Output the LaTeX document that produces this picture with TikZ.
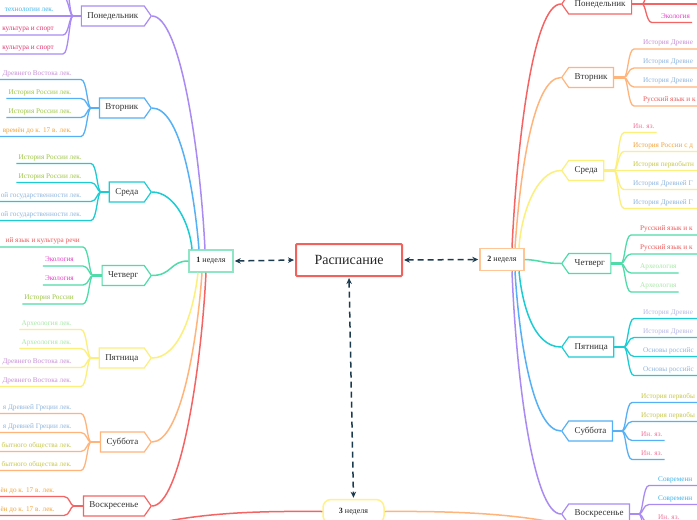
\documentclass[tikz,border=0pt]{standalone}
\usepackage{fontspec}
\setmainfont{Liberation Serif}
\usetikzlibrary{shapes.symbols,arrows.meta,calc}

\definecolor{lnPurple}{HTML}{A98BF3}
\definecolor{lnBlue}{HTML}{56B0F5}
\definecolor{lnCyan}{HTML}{1CCCD3}
\definecolor{lnGreen}{HTML}{4FDBAA}
\definecolor{lnYellow}{HTML}{FCEF7C}
\definecolor{lnOrange}{HTML}{FFB47C}
\definecolor{lnRed}{HTML}{F56464}
\definecolor{navyC}{HTML}{1B3A4D}
\definecolor{tPurp}{HTML}{C78FD6}
\definecolor{tGreen}{HTML}{9FC746}
\definecolor{tOrange}{HTML}{F2A33A}
\definecolor{tBlue}{HTML}{8FB6DE}
\definecolor{tRed}{HTML}{EC5B5B}
\definecolor{tMag}{HTML}{E43FC6}
\definecolor{tPaleG}{HTML}{A6E8A6}
\definecolor{tPink}{HTML}{F2769C}
\definecolor{tCrim}{HTML}{E2346E}
\definecolor{tCyan}{HTML}{3FB3EA}
\definecolor{tLav}{HTML}{B9B9E6}
\definecolor{tYG}{HTML}{C6C84A}
\definecolor{wGreen}{HTML}{8EE6C4}
\definecolor{wOrange}{HTML}{FFC596}
\definecolor{wYellow}{HTML}{FFF28A}
\definecolor{mainRed}{HTML}{F2625C}

% left leaf, underline ends at text start
\newcommand\leafL[7]{%
  \node[leaftxt=#5, anchor=base east] (#7) at (#1-19,#3-4.5) {#4};
  \draw[leafln=#6] (#1,#2) .. controls (#1-4,#2) and (#1-4,#3) .. (#1-10,#3) -- ($(#7.west |- 0,#3)+(-2,0)$);}
% left leaf, line runs on to the picture edge
\newcommand\leafLc[7]{%
  \node[leaftxt=#5, anchor=base east] (#7) at (#1-19,#3-4.5) {#4};
  \draw[leafln=#6] (#1,#2) .. controls (#1-4,#2) and (#1-4,#3) .. (#1-10,#3) -- (-6,#3);}
% left leaf without visible text
\newcommand\leafLn[4]{%
  \draw[leafln=#4] (#1,#2) .. controls (#1-4,#2) and (#1-4,#3) .. (#1-10,#3) -- (-6,#3);}
\newcommand\leafR[7]{%
  \node[leaftxt=#5, anchor=base west] (#7) at (#1+19,#3-4.5) {#4};
  \draw[leafln=#6] (#1,#2) .. controls (#1+4,#2) and (#1+4,#3) .. (#1+10,#3) -- ($(#7.east |- 0,#3)+(2,0)$);}
\newcommand\leafRc[7]{%
  \node[leaftxt=#5, anchor=base west] (#7) at (#1+19,#3-4.5) {#4};
  \draw[leafln=#6] (#1,#2) .. controls (#1+4,#2) and (#1+4,#3) .. (#1+10,#3) -- (705,#3);}
\newcommand\leafRn[4]{%
  \draw[leafln=#4] (#1,#2) .. controls (#1+4,#2) and (#1+4,#3) .. (#1+10,#3) -- (705,#3);}

\begin{document}
\begin{tikzpicture}[x=1pt,y=-1pt,
  dayL/.style={signal, signal to=east, signal pointer angle=110, draw=#1, fill=white, line width=1.2pt,
    font=\fontsize{9}{10}\selectfont, minimum height=20pt, inner xsep=6pt, inner ysep=0pt, text=black!80, anchor=east},
  dayR/.style={signal, signal to=west, signal pointer angle=110, draw=#1, fill=white, line width=1.2pt,
    font=\fontsize{9}{10}\selectfont, minimum height=20pt, inner xsep=6pt, inner ysep=0pt, text=black!80, anchor=west},
  conn/.style={line width=1.5pt, draw=#1},
  stub/.style={line width=2.6pt, draw=#1},
  leafln/.style={line width=1.3pt, draw=#1},
  leaftxt/.style={font=\fontsize{7.2}{8}\selectfont, inner sep=0pt, text=#1},
  weekbox/.style={draw=#1, line width=1.5pt, fill=white, minimum width=44pt, minimum height=22pt,
    inner sep=0pt, font=\fontsize{8}{9}\selectfont, text=black!85},
  dasharr/.style={draw=navyC, line width=1.5pt, dash pattern=on 6pt off 4pt,
    <->, >={Stealth[length=6pt,width=5.5pt]}, shorten <=1pt, shorten >=1pt}
]
\useasboundingbox (0,0) rectangle (697,520);
\fill[white] (0,0) rectangle (697,520);
\clip (0,0) rectangle (697,520);

% ---------- central and week nodes
\node[draw=mainRed, line width=2pt, fill=white, minimum width=106pt, minimum height=32pt, rounded corners=1pt,
  font=\fontsize{14}{16}\selectfont, text=black!85] (main) at (349,260) {Расписание};
\node[weekbox=wGreen] (w1) at (211,261) {{\bfseries 1} неделя};
\node[weekbox=wOrange] (w2) at (502,259.5) {{\bfseries 2} неделя};
\node[weekbox=wYellow, minimum width=61pt, minimum height=24pt, rounded corners=8pt] (w3) at (353.5,511.5) {{\bfseries 3} неделя};

\draw[dasharr] (w1.east) -- (main.west);
\draw[dasharr] (main.east) -- (w2.west);
\draw[dasharr] (main.south) -- (w3.north);

% ---------- day nodes, week 1
\node[dayL=lnPurple] (pn1) at (152,16) {Понедельник};
\node[dayL=lnBlue] (vt1) at (152,108) {Вторник};
\node[dayL=lnCyan] (sr1) at (152,192) {Среда};
\node[dayL=lnGreen] (ch1) at (152,275.5) {Четверг};
\node[dayL=lnYellow] (pt1) at (152,358) {Пятница};
\node[dayL=lnOrange] (sb1) at (152,442) {Суббота};
\node[dayL=lnRed] (vs1) at (152,506) {Воскресенье};

% ---------- day nodes, week 2
\node[dayR=lnRed] (pn2) at (561,4) {Понедельник};
\node[dayR=lnOrange] (vt2) at (561,77.5) {Вторник};
\node[dayR=lnYellow] (sr2) at (561,170.5) {Среда};
\node[dayR=lnGreen] (ch2) at (561,263.5) {Четверг};
\node[dayR=lnCyan] (pt2) at (561,347) {Пятница};
\node[dayR=lnBlue] (sb2) at (561,431) {Суббота};
\node[dayR=lnPurple] (vs2) at (561,514) {Воскресенье};

% ---------- week -> day connectors
\draw[conn=lnPurple] (pn1.east) .. controls (180,16) and (200,149) .. ([xshift=-6pt]w1.north);
\draw[conn=lnBlue] (vt1.east) .. controls (180,108) and (194,189) .. ([xshift=-12pt]w1.north);
\draw[conn=lnCyan] (sr1.east) .. controls (175,192) and (190,225) .. ([xshift=-19pt]w1.north);
\draw[conn=lnGreen] (ch1.east) .. controls (172,275.5) and (170,261) .. (w1.west);
\draw[conn=lnYellow] (pt1.east) .. controls (180,358) and (194,309) .. ([xshift=-13pt]w1.south);
\draw[conn=lnOrange] (sb1.east) .. controls (180,442) and (197,345) .. ([xshift=-9pt]w1.south);
\draw[conn=lnRed] (vs1.east) .. controls (180,506) and (201,373) .. ([xshift=-5pt]w1.south);

\draw[conn=lnRed] (pn2.west) .. controls (533,4) and (517,143) .. ([xshift=10pt]w2.north);
\draw[conn=lnOrange] (vt2.west) .. controls (533,77.5) and (520,175) .. ([xshift=13pt]w2.north);
\draw[conn=lnYellow] (sr2.west) .. controls (536,170.5) and (521,215) .. ([xshift=17pt]w2.north);
\draw[conn=lnGreen] (ch2.west) .. controls (543,263.5) and (540,260) .. (w2.east);
\draw[conn=lnCyan] (pt2.west) .. controls (533,347) and (522,303) .. ([xshift=17pt]w2.south);
\draw[conn=lnBlue] (sb2.west) .. controls (533,431) and (519,339) .. ([xshift=13pt]w2.south);
\draw[conn=lnPurple] (vs2.west) .. controls (533,514) and (516,375) .. ([xshift=10pt]w2.south);

% ---------- week 3 branches
\coordinate (r3end) at (140,527);
\coordinate (o3end) at (575,527);
\draw[conn=lnRed] (w3.west) .. controls (260,511) and (200,512) .. (r3end);
\draw[conn=lnOrange] (w3.east) .. controls (450,511) and (520,513) .. (o3end);

% ---------- stubs (day -> junction)
\draw[stub=lnPurple] (pn1.west) -- (73,16);
\draw[stub=lnBlue] (vt1.west) -- (91,108);
\draw[stub=lnCyan] (sr1.west) -- (101,192);
\draw[stub=lnGreen] (ch1.west) -- (93,275.5);
\draw[stub=lnYellow] (pt1.west) -- (91,358);
\draw[stub=lnOrange] (sb1.west) -- (91,442);
\draw[stub=lnRed] (vs1.west) -- (74,506);

\draw[stub=lnRed] (pn2.east) -- (642,4);
\draw[stub=lnOrange] (vt2.east) -- (624,77.5);
\draw[stub=lnYellow] (sr2.east) -- (614,170.5);
\draw[stub=lnGreen] (ch2.east) -- (621,263.5);
\draw[stub=lnCyan] (pt2.east) -- (624,347);
\draw[stub=lnBlue] (sb2.east) -- (622,431);
\draw[stub=lnPurple] (vs2.east) -- (639,514);

% ---------- leaves, week 1
\leafLn{73}{16}{-22}{lnPurple}
\leafLn{73}{16}{-3}{lnPurple}
\leafLc{73}{16}{16}{технологии лек.}{tCyan}{lnPurple}{a1}
\leafLc{73}{16}{35}{культура и спорт}{tCrim}{lnPurple}{a2}
\leafLc{73}{16}{54}{культура и спорт}{tCrim}{lnPurple}{a3}

\leafLc{91}{108}{79.5}{Древнего Востока лек.}{tPurp}{lnBlue}{b1}
\leafL{91}{108}{98.5}{История России лек.}{tGreen}{lnBlue}{b2}
\leafL{91}{108}{117.5}{История России лек.}{tGreen}{lnBlue}{b3}
\leafLc{91}{108}{136.5}{времён до к. 17 в. лек.}{tOrange}{lnBlue}{b4}

\leafL{101}{192}{163.5}{История России лек.}{tGreen}{lnCyan}{c1}
\leafL{101}{192}{182.5}{История России лек.}{tGreen}{lnCyan}{c2}
\leafLc{101}{192}{201.5}{ой государственности лек.}{tBlue}{lnCyan}{c3}
\leafLc{101}{192}{220.5}{ой государственности лек.}{tBlue}{lnCyan}{c4}

\node[leaftxt=tRed, anchor=base east] (d1) at (80,242.5) {ий язык и культура речи};
\draw[leafln=lnGreen] (93,275.5) .. controls (89,275.5) and (89,247) .. (83,247) -- (-6,247);
\leafL{93}{275.5}{266}{Экология}{tMag}{lnGreen}{d2}
\leafL{93}{275.5}{285}{Экология}{tMag}{lnGreen}{d3}
\leafL{93}{275.5}{304}{История России}{tGreen}{lnGreen}{d4}

\leafL{91}{358}{329.5}{Археология лек.}{tPaleG}{lnYellow}{e1}
\leafL{91}{358}{348.5}{Археология лек.}{tPaleG}{lnYellow}{e2}
\leafLc{91}{358}{367.5}{Древнего Востока лек.}{tPurp}{lnYellow}{e3}
\leafLc{91}{358}{386.5}{Древнего Востока лек.}{tPurp}{lnYellow}{e4}

\leafLc{91}{442}{413.5}{я Древней Греции лек.}{tBlue}{lnOrange}{f1}
\leafLc{91}{442}{432.5}{я Древней Греции лек.}{tBlue}{lnOrange}{f2}
\leafLc{91}{442}{451.5}{бытного общества лек.}{tYG}{lnOrange}{f3}
\leafLc{91}{442}{470.5}{бытного общества лек.}{tYG}{lnOrange}{f4}

\leafLc{74}{506}{496.5}{ён до к. 17 в. лек.}{tOrange}{lnRed}{g1}
\leafLc{74}{506}{515.5}{ён до к. 17 в. лек.}{tOrange}{lnRed}{g2}

% ---------- leaves, week 2
\leafRn{642}{4}{-15}{lnRed}
\leafRn{642}{4}{4}{lnRed}
\leafR{642}{4}{22.5}{Экология}{tMag}{lnRed}{h1}

\leafRc{624}{77.5}{49}{История Древне}{tPurp}{lnOrange}{i1}
\leafRc{624}{77.5}{68}{История Древне}{tBlue}{lnOrange}{i2}
\leafRc{624}{77.5}{87}{История Древне}{tBlue}{lnOrange}{i3}
\leafRc{624}{77.5}{106}{Русский язык и к}{tRed}{lnOrange}{i4}

\leafR{614}{170.5}{132.5}{Ин. яз.}{tPink}{lnYellow}{k1}
\leafRc{614}{170.5}{151.5}{История России с д}{tOrange}{lnYellow}{k2}
\leafRc{614}{170.5}{170.5}{История первобытн}{tYG}{lnYellow}{k3}
\leafRc{614}{170.5}{189.5}{История Древней Г}{tBlue}{lnYellow}{k4}
\leafRc{614}{170.5}{208.5}{История Древней Г}{tBlue}{lnYellow}{k5}

\leafRc{621}{263.5}{235}{Русский язык и к}{tRed}{lnGreen}{m1}
\leafRc{621}{263.5}{254}{Русский язык и к}{tRed}{lnGreen}{m2}
\leafR{621}{263.5}{273}{Археология}{tPaleG}{lnGreen}{m3}
\leafR{621}{263.5}{292}{Археология}{tPaleG}{lnGreen}{m4}

\leafRc{624}{347}{318.5}{История Древне}{tLav}{lnCyan}{n1}
\leafRc{624}{347}{337.5}{История Древне}{tLav}{lnCyan}{n2}
\leafRc{624}{347}{356.5}{Основы российс}{tBlue}{lnCyan}{n3}
\leafRc{624}{347}{375.5}{Основы российс}{tBlue}{lnCyan}{n4}

\leafRc{622}{431}{402.5}{История первобы}{tYG}{lnBlue}{p1}
\leafRc{622}{431}{421.5}{История первобы}{tYG}{lnBlue}{p2}
\leafR{622}{431}{440.5}{Ин. яз.}{tPink}{lnBlue}{p3}
\leafR{622}{431}{459.5}{Ин. яз.}{tPink}{lnBlue}{p4}

\leafRc{639}{514}{485.5}{Современн}{tCyan}{lnPurple}{q1}
\leafRc{639}{514}{504.5}{Современн}{tCyan}{lnPurple}{q2}
\leafR{639}{514}{523.5}{Ин. яз.}{tPink}{lnPurple}{q3}
\leafRn{639}{514}{542.5}{lnPurple}
\end{tikzpicture}
\end{document}
